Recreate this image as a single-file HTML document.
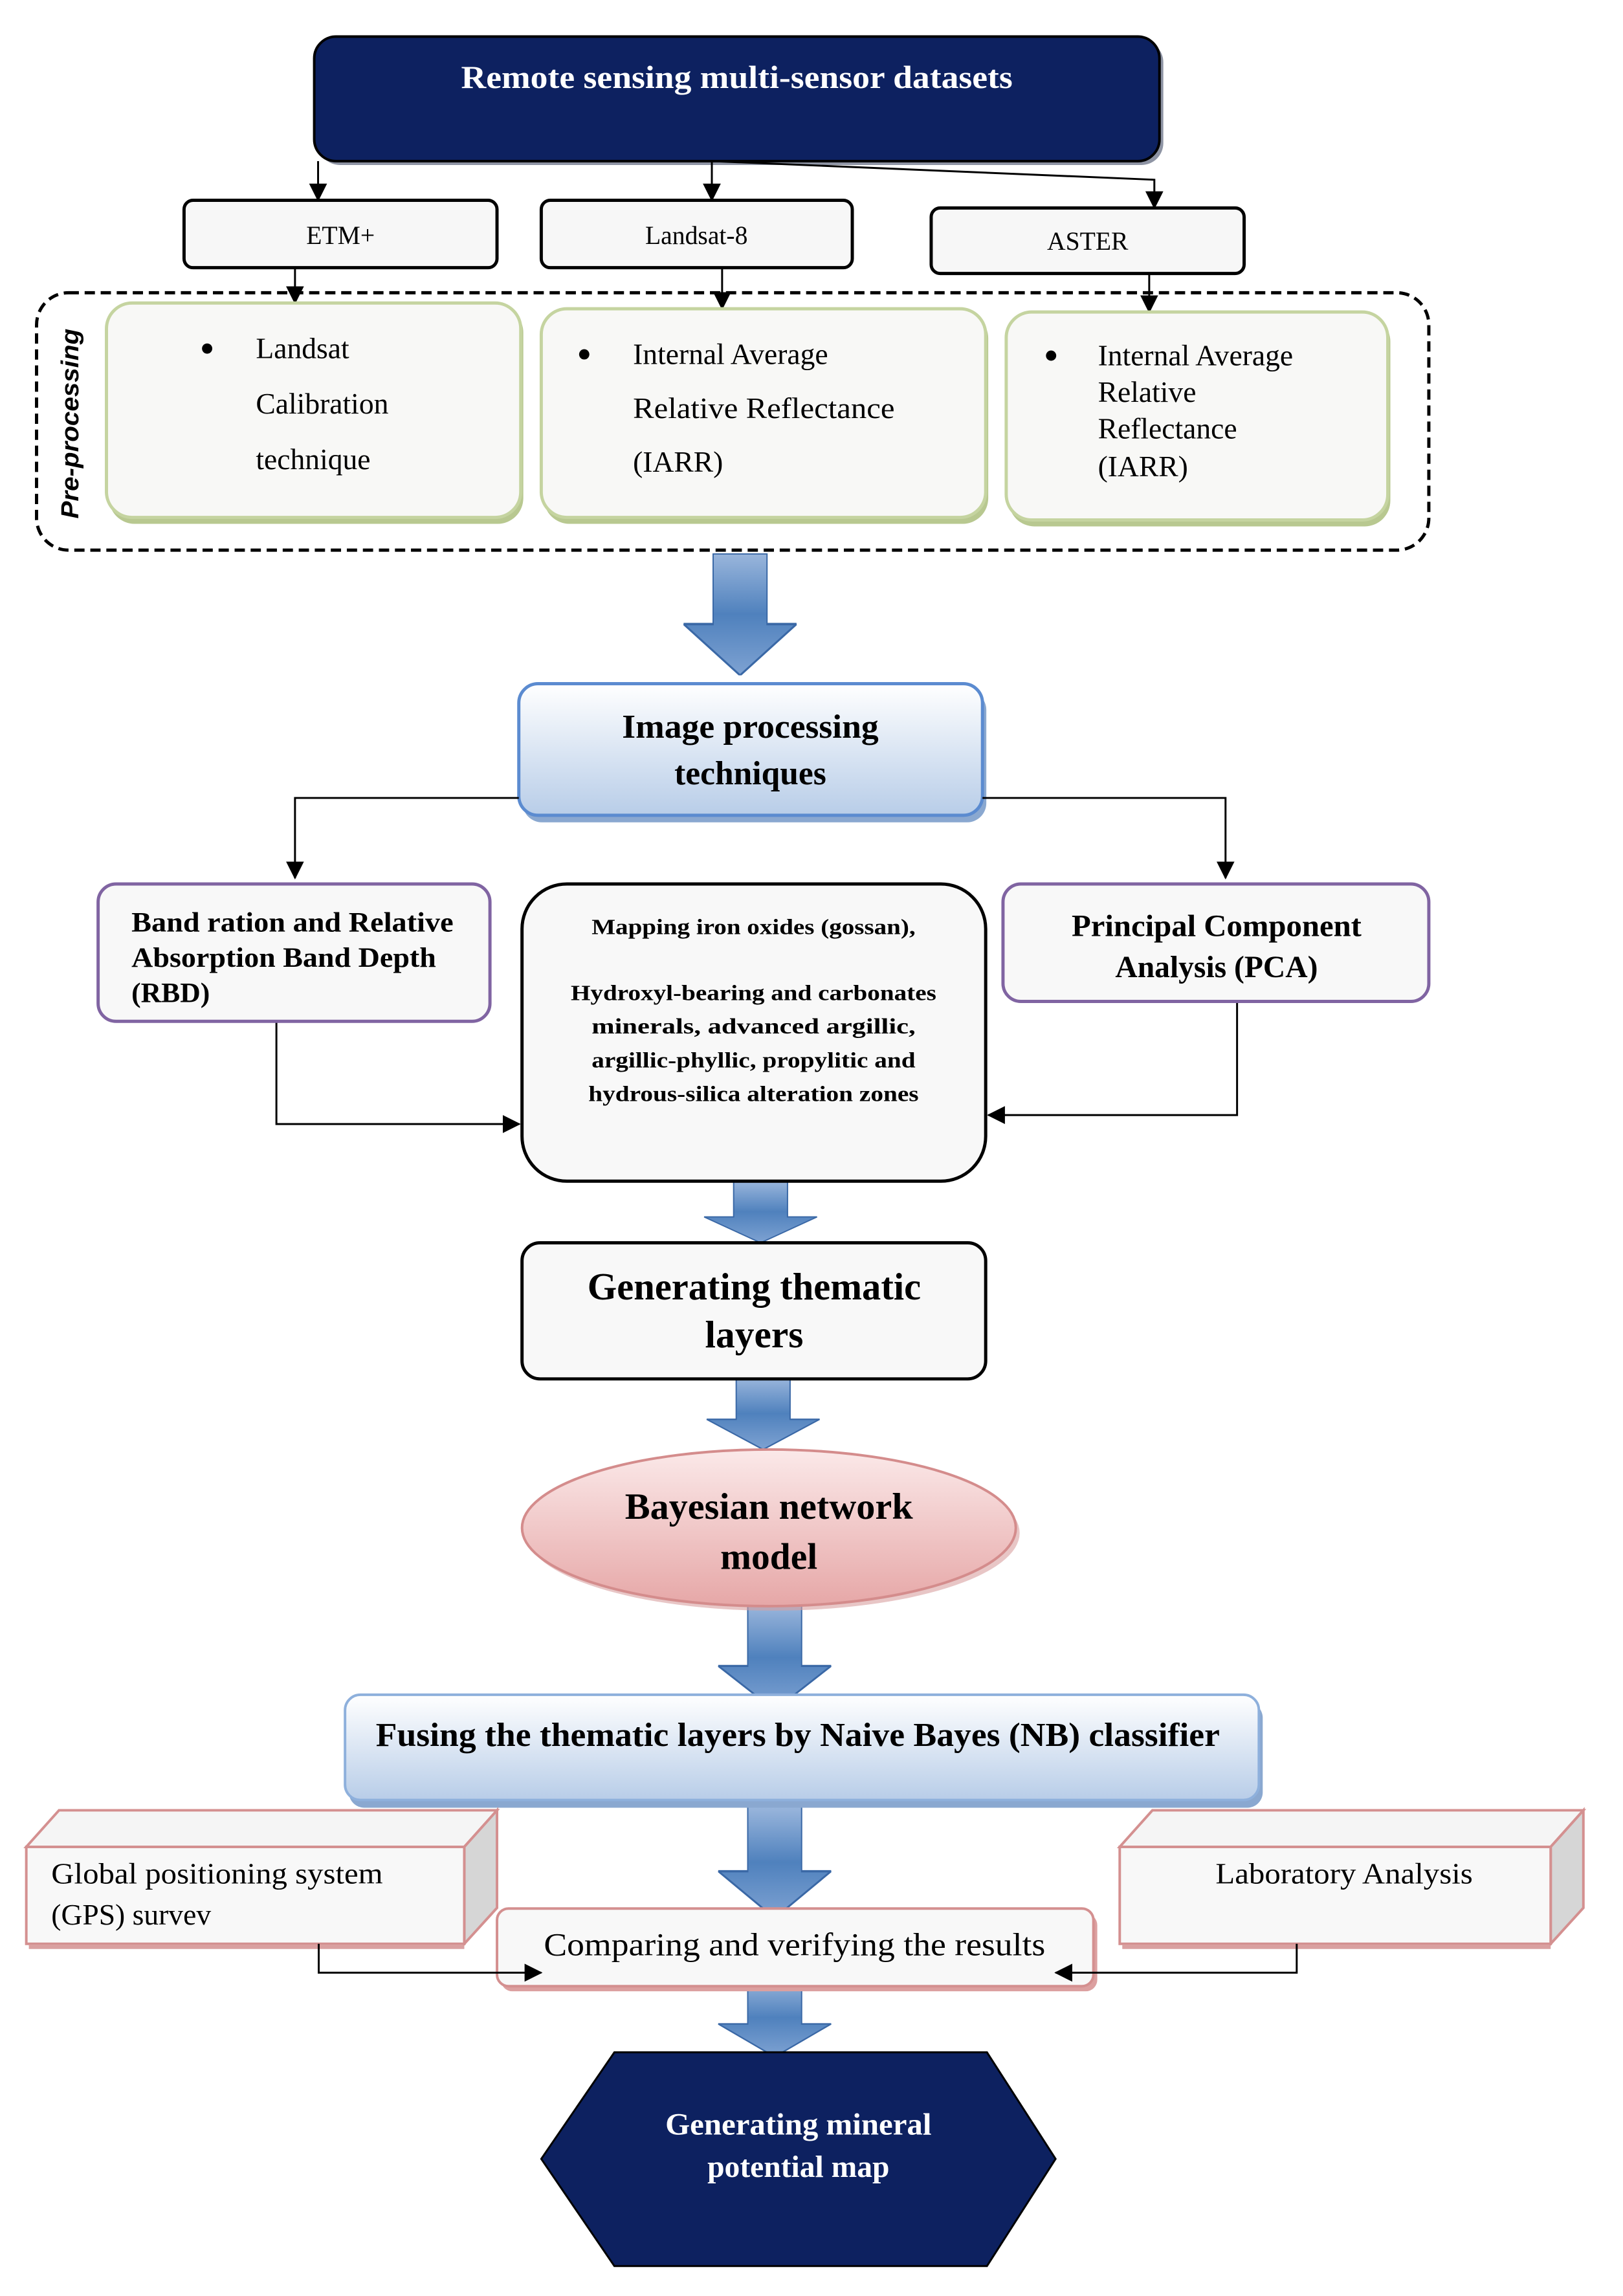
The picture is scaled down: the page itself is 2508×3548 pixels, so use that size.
<!DOCTYPE html>
<html><head><meta charset="utf-8"><style>html,body{margin:0;padding:0;background:#fff}svg{display:block}</style></head>
<body>
<svg width="2508" height="3548" viewBox="0 0 2508 3548" xmlns="http://www.w3.org/2000/svg" font-family="'Liberation Serif', serif">
<defs>
<linearGradient id="ba" x1="0" y1="0" x2="0" y2="1"><stop offset="0" stop-color="#9ab6dc"/><stop offset="0.5" stop-color="#4f81bd"/><stop offset="1" stop-color="#7ea2d2"/></linearGradient>
<linearGradient id="bl" x1="0" y1="0" x2="0" y2="1"><stop offset="0" stop-color="#ffffff"/><stop offset="1" stop-color="#b8cde8"/></linearGradient>
<linearGradient id="pk" x1="0" y1="0" x2="0" y2="1"><stop offset="0" stop-color="#fbe9e9"/><stop offset="1" stop-color="#e6a7a7"/></linearGradient>
<marker id="ah2" markerWidth="28" markerHeight="28" refX="26" refY="14" orient="auto" markerUnits="userSpaceOnUse"><path d="M0,0 L28,14 L0,28 z" fill="#000"/></marker>
<symbol id="barrow" viewBox="0 0 180 100" preserveAspectRatio="none"><path d="M48,0 H132 V58 H178 L90,100 L2,58 H48 Z" fill="url(#ba)" stroke="#3a68a6" stroke-width="2"/></symbol>
</defs>
<g transform="scale(0.991,0.992)">

<rect x="496" y="63" width="1318" height="194" rx="34" fill="#1d2a4a" opacity="0.5"/>
<rect x="490" y="57" width="1318" height="194" rx="34" fill="#0d2160" stroke="#000" stroke-width="4"/>
<text x="1149" y="137" font-size="50" font-weight="bold" fill="#fff" text-anchor="middle" textLength="860" lengthAdjust="spacingAndGlyphs">Remote sensing multi-sensor datasets</text>

<g stroke="#000" stroke-width="3" fill="none" marker-end="url(#ah2)">
<path d="M496,251 V312"/>
<path d="M1110,251 V312"/>
<path d="M1110,251 L1800,280 V324"/>
<path d="M460,417 V472"/>
<path d="M1126,417 V481"/>
<path d="M1792,426 V486"/>
</g>

<g fill="#f7f7f7" stroke="#000" stroke-width="5">
<rect x="287" y="312" width="488" height="105" rx="14"/>
<rect x="844" y="312" width="485" height="105" rx="14"/>
<rect x="1452" y="324" width="488" height="102" rx="14"/>
</g>
<g font-size="40" text-anchor="middle">
<text x="531" y="380">ETM+</text>
<text x="1086" y="380">Landsat-8</text>
<text x="1696" y="389">ASTER</text>
</g>

<rect x="57" y="456" width="2171" height="401" rx="50" fill="none" stroke="#000" stroke-width="5" stroke-dasharray="16,9"/>
<text transform="translate(122,660) rotate(-90)" font-family="'Liberation Sans', sans-serif" font-size="38" font-weight="bold" font-style="italic" text-anchor="middle" textLength="296" lengthAdjust="spacingAndGlyphs">Pre-processing</text>

<g fill="#f8f8f6" stroke="#c5d4a0" stroke-width="5">
<rect x="170" y="478" width="646" height="338" rx="40" fill="#b8c890" stroke="none"/>
<rect x="166" y="472" width="646" height="334" rx="40"/>
<rect x="848" y="487" width="693" height="329" rx="40" fill="#b8c890" stroke="none"/>
<rect x="844" y="481" width="693" height="325" rx="40"/>
<rect x="1573" y="492" width="595" height="328" rx="40" fill="#b8c890" stroke="none"/>
<rect x="1569" y="486" width="595" height="324" rx="40"/>
</g>
<g font-size="46">
<circle cx="323" cy="543" r="8"/>
<text x="399" y="558">Landsat</text>
<text x="399" y="644">Calibration</text>
<text x="399" y="731">technique</text>
<circle cx="911" cy="552" r="8"/>
<text x="987" y="567">Internal Average</text>
<text x="987" y="651" textLength="408" lengthAdjust="spacingAndGlyphs">Relative Reflectance</text>
<text x="987" y="735">(IARR)</text>
<circle cx="1639" cy="554" r="8"/>
<text x="1712" y="569">Internal Average</text>
<text x="1712" y="626">Relative</text>
<text x="1712" y="683">Reflectance</text>
<text x="1712" y="742">(IARR)</text>
</g>

<use href="#barrow" x="1064" y="862" width="180" height="190"/>
<use href="#barrow" x="1096" y="1840" width="180" height="96"/>
<use href="#barrow" x="1100" y="2146" width="180" height="112"/>
<use href="#barrow" x="1118" y="2500" width="180" height="164"/>
<use href="#barrow" x="1118" y="2814" width="180" height="174"/>
<use href="#barrow" x="1118" y="3082" width="180" height="122"/>

<rect x="815" y="1076" width="723" height="205" rx="30" fill="#8aa8d0"/>
<rect x="809" y="1065" width="723" height="205" rx="30" fill="url(#bl)" stroke="#5b8bd0" stroke-width="5"/>
<g font-size="52" font-weight="bold" text-anchor="middle">
<text x="1170" y="1149" textLength="400" lengthAdjust="spacingAndGlyphs">Image processing</text>
<text x="1170" y="1222">techniques</text>
</g>

<g stroke="#000" stroke-width="3" fill="none" marker-end="url(#ah2)">
<path d="M809,1243 H460 V1368"/>
<path d="M1532,1243 H1911 V1368"/>
<path d="M431,1591 V1751 H810"/>
<path d="M1929,1560 V1737 H1541"/>
</g>

<rect x="153" y="1377" width="611" height="214" rx="28" fill="#f8f8f8" stroke="#8064a2" stroke-width="5"/>
<g font-size="44" font-weight="bold">
<text x="205" y="1451" textLength="502" lengthAdjust="spacingAndGlyphs">Band ration and Relative</text>
<text x="205" y="1506" textLength="475" lengthAdjust="spacingAndGlyphs">Absorption Band Depth</text>
<text x="205" y="1561">(RBD)</text>
</g>

<rect x="814" y="1377" width="723" height="463" rx="70" fill="#f8f8f8" stroke="#000" stroke-width="5"/>
<g font-size="34" font-weight="bold" text-anchor="middle">
<text x="1175" y="1455" textLength="505" lengthAdjust="spacingAndGlyphs">Mapping iron oxides (gossan),</text>
<text x="1175" y="1558" textLength="570" lengthAdjust="spacingAndGlyphs">Hydroxyl-bearing and carbonates</text>
<text x="1175" y="1610" textLength="505" lengthAdjust="spacingAndGlyphs">minerals, advanced argillic,</text>
<text x="1175" y="1663" textLength="505" lengthAdjust="spacingAndGlyphs">argillic-phyllic, propylitic and</text>
<text x="1175" y="1715" textLength="515" lengthAdjust="spacingAndGlyphs">hydrous-silica alteration zones</text>
</g>

<rect x="1564" y="1377" width="664" height="183" rx="28" fill="#f8f8f8" stroke="#8064a2" stroke-width="5"/>
<g font-size="48" font-weight="bold" text-anchor="middle">
<text x="1897" y="1458" textLength="452" lengthAdjust="spacingAndGlyphs">Principal Component</text>
<text x="1897" y="1522">Analysis (PCA)</text>
</g>

<rect x="814" y="1936" width="723" height="212" rx="28" fill="#f8f8f8" stroke="#000" stroke-width="5"/>
<g font-size="60" font-weight="bold" text-anchor="middle">
<text x="1176" y="2024" textLength="520" lengthAdjust="spacingAndGlyphs">Generating thematic</text>
<text x="1176" y="2099">layers</text>
</g>

<ellipse cx="1205" cy="2388" rx="385" ry="121" fill="#d8a0a0" opacity="0.6"/>
<ellipse cx="1199" cy="2380" rx="385" ry="122" fill="url(#pk)" stroke="#d48c8c" stroke-width="4"/>
<g font-size="58" font-weight="bold" text-anchor="middle">
<text x="1199" y="2366" textLength="449" lengthAdjust="spacingAndGlyphs">Bayesian network</text>
<text x="1199" y="2444">model</text>
</g>

<rect x="544" y="2652" width="1425" height="164" rx="24" fill="#8aa8d0"/>
<rect x="538" y="2640" width="1425" height="164" rx="24" fill="url(#bl)" stroke="#8eb0dc" stroke-width="4"/>
<text x="1244" y="2720" font-size="52" font-weight="bold" text-anchor="middle" textLength="1316" lengthAdjust="spacingAndGlyphs">Fusing the thematic layers by Naive Bayes (NB) classifier</text>

<g stroke="#d49090" stroke-width="4">
<polygon points="41,2877 92,2820 775,2820 724,2877" fill="#f5f5f5"/>
<polygon points="724,2877 775,2820 775,2972 724,3028" fill="#d6d6d6"/>
<rect x="41" y="2877" width="683" height="151" fill="#f8f8f8"/>
</g>
<line x1="45" y1="3033" x2="724" y2="3033" stroke="#d9a0a0" stroke-width="6"/>
<g font-size="46">
<text x="80" y="2934" textLength="517" lengthAdjust="spacingAndGlyphs">Global positioning system</text>
<text x="80" y="2998">(GPS) survev</text>
</g>

<g stroke="#d49090" stroke-width="4">
<polygon points="1746,2877 1797,2820 2469,2820 2418,2877" fill="#f5f5f5"/>
<polygon points="2418,2877 2469,2820 2469,2972 2418,3028" fill="#d6d6d6"/>
<rect x="1746" y="2877" width="672" height="151" fill="#f8f8f8"/>
</g>
<line x1="1750" y1="3033" x2="2418" y2="3033" stroke="#d9a0a0" stroke-width="6"/>
<text x="2096" y="2934" font-size="46" text-anchor="middle" textLength="401" lengthAdjust="spacingAndGlyphs">Laboratory Analysis</text>

<rect x="781" y="2981" width="930" height="121" rx="18" fill="#dca0a0"/>
<rect x="775" y="2973" width="930" height="121" rx="18" fill="#f8f8f8" stroke="#d49090" stroke-width="4"/>
<text x="1239" y="3046" font-size="50" text-anchor="middle" textLength="782" lengthAdjust="spacingAndGlyphs">Comparing and verifying the results</text>

<g stroke="#000" stroke-width="3" fill="none" marker-end="url(#ah2)">
<path d="M497,3028 V3073 H844"/>
<path d="M2022,3028 V3073 H1646"/>
</g>

<polygon points="958,3197 1539,3197 1646,3363 1539,3530 958,3530 844,3363" fill="#0d2160" stroke="#000" stroke-width="3"/>
<g font-size="48" font-weight="bold" fill="#fff" text-anchor="middle">
<text x="1245" y="3325" textLength="415" lengthAdjust="spacingAndGlyphs">Generating mineral</text>
<text x="1245" y="3391">potential map</text>
</g>
</g>
</svg>
</body></html>
